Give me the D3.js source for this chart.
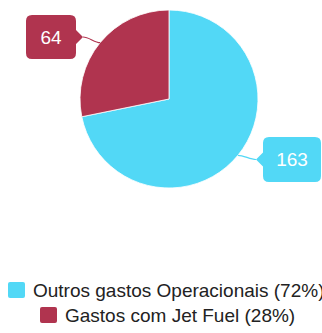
<!DOCTYPE html>
<html>
<head>
<meta charset="utf-8">
<script src="https://cdn.jsdelivr.net/npm/d3@7/dist/d3.min.js"></script>
<style>
  html, body { margin: 0; padding: 0; background: #fff; overflow: hidden; }
  svg { display: block; font-family: "Liberation Sans", Arial, sans-serif; }
</style>
</head>
<body>
<svg id="chart" width="322" height="333"></svg>
<script>
const categories = ["Outros gastos Operacionais", "Gastos com Jet Fuel"];
const values = [163, 64];
const percentLabels = ["72%", "28%"];
const colors = ["#52d8f6", "#b0344f"];

const svg = d3.select("#chart");
const cx = 169, cy = 99, r = 89;

const pie = d3.pie().sort(null).value(d => d.value);
const arcs = pie(categories.map((c, i) => ({ name: c, value: values[i], color: colors[i] })));
const arc = d3.arc().innerRadius(0).outerRadius(r);

const g = svg.append("g").attr("transform", `translate(${cx},${cy})`);
g.selectAll("path.slice").data(arcs).enter().append("path")
  .attr("class", "slice")
  .attr("d", arc)
  .attr("fill", d => d.data.color)
  .attr("stroke", "#fff")
  .attr("stroke-width", 0.8);

// Callout label boxes: rounded rectangle with a pointer toward the slice
function callout(x, y, w, h, rad, side, py) {
  const p = d3.path();
  p.moveTo(x + rad, y);
  p.lineTo(x + w - rad, y);
  p.quadraticCurveTo(x + w, y, x + w, y + rad);
  if (side === "right") {
    p.lineTo(x + w, py - 7);
    p.lineTo(x + w + 7, py);
    p.lineTo(x + w, py + 7);
  }
  p.lineTo(x + w, y + h - rad);
  p.quadraticCurveTo(x + w, y + h, x + w - rad, y + h);
  p.lineTo(x + rad, y + h);
  p.quadraticCurveTo(x, y + h, x, y + h - rad);
  if (side === "left") {
    p.lineTo(x, py + 7);
    p.lineTo(x - 7, py);
    p.lineTo(x, py - 7);
  }
  p.lineTo(x, y + rad);
  p.quadraticCurveTo(x, y, x + rad, y);
  p.closePath();
  return p.toString();
}

const labelBoxes = [
  { x: 263, y: 137, w: 58, h: 45, side: "left" },
  { x: 26, y: 15, w: 50, h: 44, side: "right" }
];

const labelArc = d3.arc().innerRadius(r).outerRadius(r);
arcs.forEach((d, i) => {
  const b = labelBoxes[i];
  const [ex, ey] = labelArc.centroid(d);
  const px = cx + ex, py = cy + ey;
  const tipY = b.y + b.h / 2;
  const tipX = b.side === "left" ? b.x - 7 : b.x + b.w + 7;
  const midX = b.side === "left" ? tipX - 6 : tipX + 6;
  svg.append("path")
    .attr("d", `M${px},${py} C${(px + midX) / 2},${py} ${midX},${tipY} ${tipX},${tipY}`)
    .attr("fill", "none")
    .attr("stroke", d.data.color)
    .attr("stroke-width", 1.2);
  svg.append("path")
    .attr("d", callout(b.x, b.y, b.w, b.h, 6, b.side, tipY))
    .attr("fill", d.data.color);
  svg.append("text")
    .attr("x", b.x + b.w / 2)
    .attr("y", tipY + 6.5)
    .attr("text-anchor", "middle")
    .attr("fill", "#fff")
    .attr("font-size", 19)
    .text(d.data.value);
});

// Legend
const legendRows = [
  { sx: 8, sy: 282, tx: 33, ty: 297 },
  { sx: 40, sy: 307, tx: 65, ty: 322 }
];
categories.forEach((c, i) => {
  const L = legendRows[i];
  svg.append("rect")
    .attr("x", L.sx).attr("y", L.sy)
    .attr("width", 17).attr("height", 16)
    .attr("rx", 2)
    .attr("fill", colors[i]);
  svg.append("text")
    .attr("x", L.tx).attr("y", L.ty)
    .attr("fill", "#222")
    .attr("font-size", 19)
    .text(`${c} (${percentLabels[i]})`);
});
</script>
</body>
</html>
